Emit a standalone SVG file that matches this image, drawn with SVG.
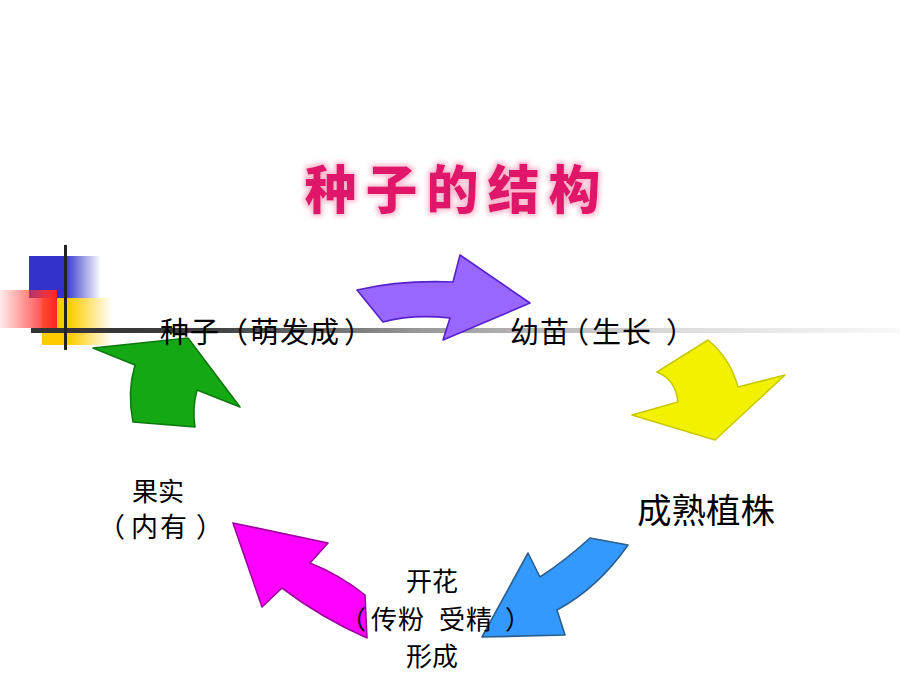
<svg xmlns="http://www.w3.org/2000/svg" width="920" height="690" viewBox="0 0 920 690">
  <defs>
    <linearGradient id="gBlue" x1="29" y1="0" x2="101" y2="0" gradientUnits="userSpaceOnUse">
      <stop offset="0" stop-color="#3333CC"/>
      <stop offset="0.5" stop-color="#3333CC"/>
      <stop offset="1" stop-color="#3333CC" stop-opacity="0"/>
    </linearGradient>
    <linearGradient id="gYellow" x1="42" y1="0" x2="112" y2="0" gradientUnits="userSpaceOnUse">
      <stop offset="0" stop-color="#FFCC00"/>
      <stop offset="0.4" stop-color="#FFCC00"/>
      <stop offset="1" stop-color="#FFCC00" stop-opacity="0"/>
    </linearGradient>
    <linearGradient id="gRed" x1="0" y1="0" x2="57" y2="0" gradientUnits="userSpaceOnUse">
      <stop offset="0" stop-color="#FF3333" stop-opacity="0.1"/>
      <stop offset="0.8" stop-color="#FF3333" stop-opacity="0.9"/>
      <stop offset="1" stop-color="#FF2222"/>
    </linearGradient>
    <linearGradient id="gLine" x1="31" y1="0" x2="900" y2="0" gradientUnits="userSpaceOnUse">
      <stop offset="0" stop-color="#333333"/>
      <stop offset="0.2" stop-color="#3c3c3c"/>
      <stop offset="0.45" stop-color="#999999"/>
      <stop offset="0.75" stop-color="#dddddd"/>
      <stop offset="1" stop-color="#f8f8f8"/>
    </linearGradient>
    <filter id="glow" x="-10%" y="-30%" width="120%" height="160%">
      <feMorphology in="SourceAlpha" operator="dilate" radius="2" result="d"/>
      <feGaussianBlur in="d" stdDeviation="2.5" result="b"/>
      <feFlood flood-color="#F9B8D0"/>
      <feComposite in2="b" operator="in" result="halo"/>
      <feMerge>
        <feMergeNode in="halo"/>
        <feMergeNode in="SourceGraphic"/>
      </feMerge>
    </filter>
  </defs>
  <style>
    .lbl { font-family: "Noto Sans CJK SC", "Noto Sans", sans-serif; fill: #000; }
    .arrow { stroke-width: 1.6; stroke-linejoin: round; }
  </style>

  <rect width="920" height="690" fill="#ffffff"/>

  <!-- decoration -->
  <g id="decoration">
    <rect x="29" y="256" width="72" height="42" fill="url(#gBlue)"/>
    <rect x="42" y="298" width="70" height="47" fill="url(#gYellow)"/>
    <rect x="0" y="290" width="57" height="38" fill="url(#gRed)"/>
    <rect x="31" y="328" width="869" height="5" fill="url(#gLine)"/>
    <rect x="64" y="245" width="3" height="105" fill="#222222"/>
  </g>

  <!-- title -->
  <g id="title">
    <text x="457" y="209" text-anchor="middle" font-family="'Noto Sans CJK SC', sans-serif" font-weight="900" font-size="52" letter-spacing="9" fill="#E0186A" filter="url(#glow)">种子的结构</text>
  </g>

  <!-- connectors -->
  <g id="connectors">
    <path class="arrow" d="M357,290 Q400,280 453,282 L460,255 L530,303 L443,340 L450,318 Q412,314 383,322 Z" fill="#9966FF" stroke="#5522CC"/>
    <path class="arrow" d="M708,340 L657,372 Q676,380 678,402 L632,415 L715,440 L785,375 L738,387 Q730,358 708,340 Z" fill="#F2F200" stroke="#C8C800"/>
    <path class="arrow" d="M590,538 L628,545 Q598,588 557,610 L565,635 L482,637 L528,553 L540,577 Q566,560 590,538 Z" fill="#3399FF" stroke="#2A5F8F"/>
    <path class="arrow" d="M233,523 L328,543 L310,563 Q340,575 365,595 L367,638 Q320,617 282,588 L262,607 Z" fill="#FF00FF" stroke="#A000A0"/>
    <path class="arrow" d="M133,422 Q127,392 135,365 L93,348 L188,338 L240,407 L197,390 Q192,408 195,427 Z" fill="#14A814" stroke="#0C7A0C"/>
  </g>

  <!-- nodes -->
  <g id="node-seed">
    <text class="lbl" x="160 190 219 250 280 310 344" y="343" font-size="29">种子（萌发成）</text>
  </g>
  <g id="node-seedling">
    <text class="lbl" x="510 540 560 592 622 666" y="343" font-size="29">幼苗（生长）</text>
  </g>
  <g id="node-plant">
    <text class="lbl" x="637" y="523" font-size="34.5">成熟植株</text>
  </g>
  <g id="node-flower">
    <text class="lbl" x="432" y="591" font-size="26" text-anchor="middle">开花</text>
    <text class="lbl" x="340 371 398 425 439 466 505" y="629" font-size="26">（传粉 受精）</text>
    <text class="lbl" x="432" y="666" font-size="26" text-anchor="middle">形成</text>
  </g>
  <g id="node-fruit">
    <text class="lbl" x="158" y="501" font-size="26" text-anchor="middle">果实</text>
    <text class="lbl" x="98 131 160 196" y="537" font-size="27">（内有）</text>
  </g>
</svg>
